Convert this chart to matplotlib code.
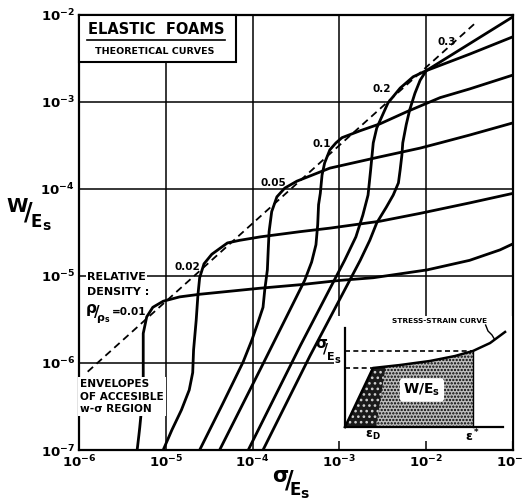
import numpy as np
import matplotlib
matplotlib.use("Agg")
import matplotlib.pyplot as plt
from matplotlib.patches import Rectangle, Polygon
from matplotlib.lines import Line2D

plt.rcParams['font.family'] = ['DejaVu Sans']
plt.rcParams['font.weight'] = 'bold'
plt.rcParams['mathtext.fontset'] = 'dejavusans'
plt.rcParams['mathtext.default'] = 'bf'
plt.rcParams['hatch.linewidth'] = 1.1

# ---------------------------------------------------------------
# Theoretical energy-absorption curves, log10(sigma/Es) vs log10(W/Es)
# ---------------------------------------------------------------
rho_labels = ["0.01", "0.02", "0.05", "0.1", "0.2", "0.3"]

lsig_001 = [-5.33, -5.31, -5.30, -5.27, -5.26, -5.26, -5.26, -5.22, -5.15, -5.03,
            -4.84, -4.61, -3.91, -3.45, -2.99, -2.61, -1.99, -1.50, -1.15, -1.00]
lw_001 = [-7.00, -6.83, -6.74, -6.43, -6.15, -6.00, -5.66, -5.47, -5.36, -5.29,
          -5.24, -5.21, -5.14, -5.10, -5.05, -5.02, -4.93, -4.82, -4.70, -4.63]

lsig_002 = [-5.03, -4.93, -4.82, -4.73, -4.69, -4.68, -4.65, -4.63, -4.61, -4.56,
            -4.47, -4.29, -4.15, -3.91, -3.45, -3.11, -2.53, -2.07, -1.50, -1.00]
lw_002 = [-7.00, -6.77, -6.54, -6.31, -6.11, -5.85, -5.51, -5.22, -5.02, -4.86,
          -4.75, -4.62, -4.59, -4.55, -4.49, -4.45, -4.37, -4.28, -4.16, -4.05]

lsig_005 = [-4.61, -4.35, -4.11, -4.01, -3.94, -3.88, -3.86, -3.83, -3.82, -3.81,
            -3.78, -3.72, -3.63, -3.49, -3.11, -2.53, -2.07, -1.84, -1.50, -1.00]
lw_005 = [-7.00, -6.48, -5.99, -5.74, -5.54, -5.36, -5.16, -4.93, -4.70, -4.49,
          -4.26, -4.09, -3.99, -3.91, -3.76, -3.63, -3.53, -3.47, -3.38, -3.24]

lsig_01 = [-4.38, -3.89, -3.40, -3.32, -3.27, -3.25, -3.24, -3.22, -3.20, -3.17,
           -3.11, -3.04, -2.97, -2.76, -2.53, -2.22, -1.84, -1.50, -1.00]
lw_01 = [-7.00, -6.03, -5.05, -4.84, -4.64, -4.41, -4.18, -4.05, -3.84, -3.70,
         -3.55, -3.47, -3.41, -3.33, -3.25, -3.11, -2.95, -2.85, -2.69]

lsig_02 = [-4.05, -3.45, -2.94, -2.81, -2.73, -2.67, -2.64, -2.61, -2.57, -2.53,
           -2.44, -2.30, -2.15, -2.00, -1.50, -1.00]
lw_02 = [-7.00, -5.80, -4.82, -4.55, -4.30, -4.07, -3.78, -3.47, -3.30, -3.21,
         -3.01, -2.84, -2.71, -2.64, -2.45, -2.25]

lsig_03 = [-3.88, -3.34, -2.76, -2.65, -2.57, -2.46, -2.38, -2.32, -2.30, -2.28,
           -2.27, -2.23, -2.19, -2.13, -2.07, -2.00, -1.50, -1.00]
lw_03 = [-7.00, -5.92, -4.82, -4.59, -4.39, -4.21, -4.07, -3.93, -3.78, -3.61,
         -3.47, -3.26, -3.09, -2.90, -2.75, -2.64, -2.33, -2.02]

# Envelope of the accessible W-sigma region (dashed)
env_lsig = [-5.90, -1.42]
env_lw = [-6.10, -2.08]

x_decades = [-6, -5, -4, -3, -2, -1]
y_decades = [-7, -6, -5, -4, -3, -2]

# Schematic stress-strain curve for the inset (normalised units)
ss_strain = [0.0, 0.177, 0.348, 0.538, 0.696, 0.81, 0.918, 1.013]
ss_stress = [0.0, 0.596, 0.626, 0.667, 0.717, 0.768, 0.848, 0.96]
eps_D = 0.177
sig_D = 0.596
eps_star = 0.81
sig_star = 0.768

# ---------------------------------------------------------------
FW, FH = 523, 503
fig = plt.figure(figsize=(FW / 100, FH / 100), dpi=100)


def fpt(x, y):
    """pixel position (from top-left) -> figure fraction"""
    return x / FW, 1 - y / FH


def ftext(x, y, s, **kw):
    fx, fy = fpt(x, y)
    kw.setdefault('ha', 'center')
    kw.setdefault('va', 'center')
    kw.setdefault('zorder', 8)
    return fig.text(fx, fy, s, **kw)


white_box = dict(boxstyle='square,pad=0.12', fc='white', ec='none')

ax = fig.add_axes([79 / FW, 1 - 450 / FH, 434 / FW, 435 / FH])
ax.set_xscale('log')
ax.set_yscale('log')
ax.set_xlim(10.0 ** x_decades[0], 10.0 ** x_decades[-1])
ax.set_ylim(10.0 ** y_decades[0], 10.0 ** y_decades[-1])
ax.minorticks_off()
ax.set_xticks([10.0 ** d for d in x_decades],
              labels=[rf'$10^{{{d}}}$' for d in x_decades])
ax.set_yticks([10.0 ** d for d in y_decades],
              labels=[rf'$10^{{{d}}}$' for d in y_decades])
ax.tick_params(length=0, labelsize=9.5)
ax.tick_params(axis='x', pad=3)
ax.tick_params(axis='y', pad=3)
ax.grid(True, color='black', lw=1.1)
ax.set_axisbelow(True)
for s in ax.spines.values():
    s.set_linewidth(1.6)

curves = [(lsig_001, lw_001), (lsig_002, lw_002), (lsig_005, lw_005),
          (lsig_01, lw_01), (lsig_02, lw_02), (lsig_03, lw_03)]
for lsig, lw in curves:
    ax.plot(10.0 ** np.array(lsig), 10.0 ** np.array(lw), color='black',
            lw=2.0, solid_joinstyle='round', solid_capstyle='round', zorder=3)

ax.plot(10.0 ** np.array(env_lsig), 10.0 ** np.array(env_lw), color='black',
        lw=1.3, ls=(0, (4, 2.6)), zorder=4)

# density labels along the envelope
for lab, (x, y) in zip(rho_labels[1:], [(187, 267), (273, 183), (322, 144),
                                         (382, 89), (447, 42)]):
    ftext(x, y, lab, fontsize=7.5)

# title box
fig.add_artist(Rectangle(fpt(79, 62), (236 - 79) / FW, (62 - 15) / FH,
                         transform=fig.transFigure, fc='white', ec='black',
                         lw=1.5, zorder=6))
ftext(156, 30, 'ELASTIC  FOAMS', fontsize=10.5)
fig.add_artist(Line2D([87 / FW, 225 / FW], [fpt(0, 39.5)[1]] * 2,
                      transform=fig.transFigure, color='black', lw=1.2, zorder=8))
ftext(155, 51, 'THEORETICAL CURVES', fontsize=6.8)

# relative density annotation
ftext(87, 277, 'RELATIVE', fontsize=8, ha='left', bbox=white_box)
ftext(87, 292, 'DENSITY :', fontsize=8, ha='left', bbox=white_box)
ftext(91, 309, 'ρ', fontsize=11)
ftext(97, 313, '/', fontsize=11)
ftext(103, 319, r'$\rho_s$', fontsize=8)
ftext(112, 312, '=0.01', fontsize=7.5, ha='left')

# envelope annotation
ftext(80, 379, 'ENVELOPES\nOF ACCESIBLE\nw-σ REGION', fontsize=7.6,
      ha='left', va='top', linespacing=1.32,
      bbox=dict(boxstyle='square,pad=0.2', fc='white', ec='none'))

# axis labels as slanted fractions
ftext(17, 207, 'W', fontsize=14)
ftext(28, 213, '/', fontsize=17)
ftext(36, 222, 'E', fontsize=12)
ftext(46, 226, 's', fontsize=10)

ftext(280, 476, 'σ', fontsize=15)
ftext(289, 481, '/', fontsize=17)
ftext(295, 490, 'E', fontsize=12)
ftext(304, 494, 's', fontsize=10)

# ---------------------------------------------------------------
# inset: stress-strain schematic
# ---------------------------------------------------------------
ins = fig.add_axes([334 / FW, 1 - 441 / FH, (512 - 334) / FW, (441 - 316) / FH],
                   zorder=5)
ins.set_facecolor('white')
ins.set_xticks([])
ins.set_yticks([])
for s in ins.spines.values():
    s.set_visible(False)
ins.set_xlim(-0.0696, 1.057)
ins.set_ylim(-0.1414, 1.1212)

area = [(0.0, 0.0)] + [(e, s) for e, s in zip(ss_strain, ss_stress) if e <= eps_star] \
       + [(eps_star, 0.0)]
ins.add_patch(Polygon(area, closed=True, fc='#bdbdbd', ec='black', lw=0,
                      hatch='.....', zorder=1))
ins.add_patch(Polygon([(0, 0), (eps_D, sig_D), (eps_D + 0.08, sig_D + 0.012),
                       (eps_D + 0.02, 0)], closed=True, fc='#1a1a1a', ec='#d0d0d0',
                      lw=0, hatch='...', zorder=1.5))
ins.plot([eps_star, eps_star], [0, sig_star], color='black', lw=1.0, zorder=2)
ins.plot(ss_strain, ss_stress, color='black', lw=1.8, zorder=3)
ins.plot([0, 0], [0, 1.0], color='black', lw=1.6, zorder=3)
ins.plot([0, 1.0], [0, 0], color='black', lw=1.6, zorder=3)
ins.plot([0, eps_star], [sig_star, sig_star], color='black', lw=1.2,
         ls=(0, (3, 2)), zorder=3)
ins.plot([0, eps_D], [sig_D, sig_D], color='black', lw=1.2, ls=(0, (3, 2)), zorder=3)
ins.plot([0.89, 0.905, 0.93, 0.945], [1.03, 0.97, 0.93, 0.89], color='black',
         lw=1.0, zorder=3)

ins.text(0.487, 0.374, r'$W/E_s$', fontsize=10, ha='center', va='center',
         bbox=dict(boxstyle='round,pad=0.25', fc='white', ec='none'), zorder=4)
ins.text(eps_D, -0.09, r'$\varepsilon_D$', fontsize=9, ha='center', va='center')
ins.text(eps_star, -0.09, r'$\varepsilon^*$', fontsize=9, ha='center', va='center')

ftext(440, 321, 'STRESS-STRAIN CURVE', fontsize=5.3, zorder=9)
ftext(321, 343, 'σ', fontsize=11, zorder=9)
ftext(326, 348, '/', fontsize=10, zorder=9)
ftext(331, 357, 'E', fontsize=8, zorder=9)
ftext(337, 360, 's', fontsize=7, zorder=9)

fig.savefig('out.png', dpi=100, facecolor='white')
